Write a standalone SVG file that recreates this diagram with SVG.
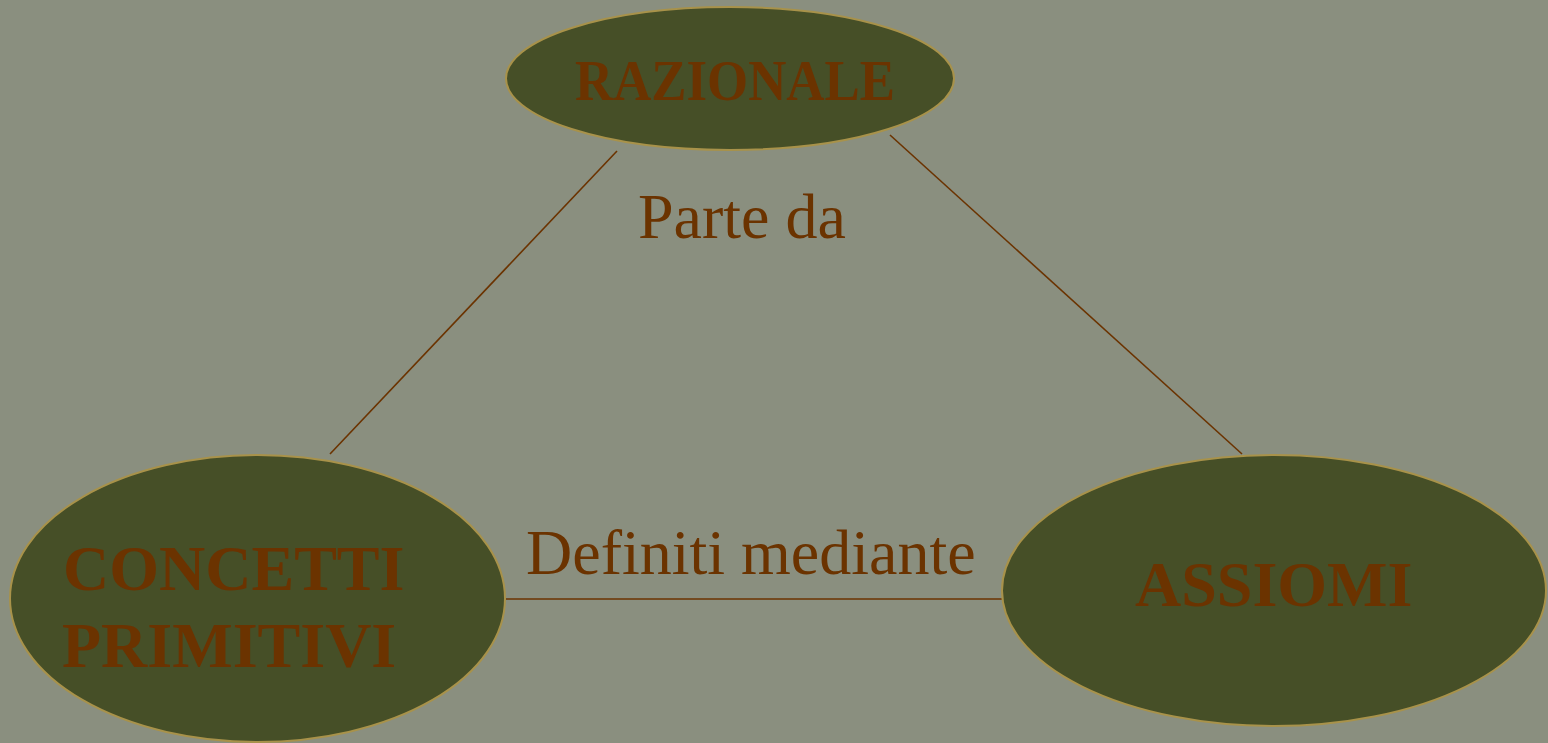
<svg xmlns="http://www.w3.org/2000/svg" width="1548" height="743" viewBox="0 0 1548 743">
  <style>
    .node { fill: #464f27; stroke: #a8924a; stroke-width: 2; }
    .edge { stroke: #6b3300; stroke-width: 1.6; fill: none; }
    .title { font-family: "Liberation Serif", "Times New Roman", serif; font-weight: bold; fill: #6b3300; }
    .label { font-family: "Liberation Serif", "Times New Roman", serif; font-size: 64px; fill: #6b3300; }
  </style>
  <rect x="0" y="0" width="1548" height="743" fill="#8a8f7f"/>
  <g id="connectors">
    <line class="edge" x1="617" y1="151" x2="330" y2="454"/>
    <line class="edge" x1="890" y1="135" x2="1242" y2="454"/>
    <line class="edge" x1="506" y1="599" x2="1002" y2="599"/>
    <text class="label" x="638" y="238">Parte da</text>
    <text class="label" x="526" y="574">Definiti mediante</text>
  </g>
  <g id="razionale">
    <ellipse class="node" cx="730" cy="78.5" rx="224" ry="71.5"/>
    <text class="title" x="575" y="100" font-size="56" textLength="320" lengthAdjust="spacingAndGlyphs">RAZIONALE</text>
  </g>
  <g id="concetti-primitivi">
    <ellipse class="node" cx="257.5" cy="598.5" rx="247.5" ry="143.5"/>
    <text class="title" font-size="64">
      <tspan x="63" y="590">CONCETTI</tspan>
      <tspan x="62" y="667">PRIMITIVI</tspan>
    </text>
  </g>
  <g id="assiomi">
    <ellipse class="node" cx="1274" cy="590.5" rx="272" ry="135.5"/>
    <text class="title" x="1135" y="606" font-size="64">ASSIOMI</text>
  </g>
</svg>
